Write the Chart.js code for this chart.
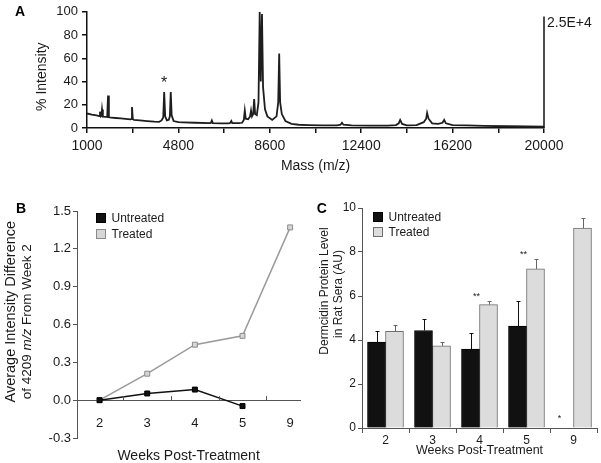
<!DOCTYPE html>
<html>
<head>
<meta charset="utf-8">
<script src="https://cdn.jsdelivr.net/npm/chart.js@4.4.0/dist/chart.umd.min.js"></script>
<style>
  html, body { margin: 0; padding: 0; background: #fff; }
  #lienzo { position: relative; width: 601px; height: 463px; overflow: hidden; }
  canvas { position: absolute; }
</style>
</head>
<body>
<div id="lienzo">
  <canvas id="graficoA" width="601" height="185" style="left:0px;top:0px"></canvas>
  <canvas id="graficoB" width="309" height="273" style="left:0px;top:190px"></canvas>
  <canvas id="graficoC" width="301" height="273" style="left:300px;top:190px"></canvas>
</div>
<script>
// Panel A: espectro de masas (m/z vs % intensidad)
const masas = [1000, 1200, 1400, 1500, 1540, 1575, 1600, 1625, 1660, 1800, 1840, 1875, 1910, 2000, 2200, 2400, 2600, 2800, 2835, 2870, 2905, 2950, 3200, 3500, 3800, 4000, 4100, 4170, 4209, 4250, 4320, 4400, 4445, 4482, 4520, 4600, 4800, 5000, 5500, 6100, 6150, 6190, 6230, 6600, 6900, 6960, 7000, 7040, 7300, 7450, 7520, 7560, 7600, 7700, 7780, 7820, 7860, 7910, 7950, 7990, 8060, 8130, 8180, 8225, 8275, 8320, 8400, 8500, 8700, 8880, 8950, 8990, 9030, 9100, 9250, 9500, 9800, 10200, 10800, 11400, 11540, 11600, 11660, 12000, 12800, 13500, 13850, 13960, 14020, 14100, 14300, 14700, 15000, 15100, 15140, 15200, 15350, 15600, 15780, 15850, 15920, 16200, 16800, 17500, 18500, 19300, 20000];
const intensidades = [12.5, 11.5, 10.8, 10.3, 14, 10, 10.5, 16, 9.8, 9.5, 9.4, 28, 9.2, 9.0, 8.6, 8.2, 7.8, 7.4, 7.6, 18, 7.8, 7.0, 6.6, 6.0, 5.5, 5.3, 6.5, 9, 31, 10, 6.5, 7, 10, 31, 11, 6, 5.0, 4.8, 4.5, 4.2, 4.4, 6.5, 4.2, 4.0, 4.0, 4.5, 6, 4.2, 4.2, 4.5, 7, 15, 8, 7.5, 10, 15, 10, 12, 25, 12, 11, 22, 100, 40, 98, 35, 16, 10, 7, 10, 22, 64, 22, 12, 6, 3.5, 2.8, 2.5, 2.3, 2.3, 2.8, 4.5, 2.8, 2.2, 2.0, 2.0, 2.5, 4, 7, 3.5, 2.2, 2.5, 5, 8, 13, 8, 4, 3.5, 4.5, 7, 4, 2.5, 2.2, 1.8, 1.5, 1.3, 1.2];
const picoMarcado = 4209;

// Panel B: diferencia de intensidad promedio respecto a la semana 2
const semanas = ['2', '3', '4', '5', '9'];
const difNoTratado = [0.0, 0.053, 0.084, -0.047, null];
const difTratado = [0.0, 0.21, 0.44, 0.51, 1.37];

// Panel C: nivel de dermcidina en suero (barras + error)
const nivelNoTratado = [3.90, 4.43, 3.59, 4.63, null];
const errNoTratado = [0.52, 0.54, 0.72, 1.14, null];
const nivelTratado = [4.39, 3.73, 5.61, 7.23, 9.09];
const errTratado = [0.27, 0.20, 0.17, 0.46, 0.47];
const marcasSig = ['', '', '**', '**', '*'];

const FUENTE = '"Liberation Sans", Arial, Helvetica, sans-serif';
const TINTA = '#1a1a1a';
Chart.defaults.font.family = FUENTE;
Chart.defaults.color = TINTA;
Chart.defaults.animation = false;

// Texto vertical con partes en cursiva
function textoRotado(ctx, partes, cx, cy, size) {
    ctx.save();
    ctx.translate(cx, cy);
    ctx.rotate(-Math.PI / 2);
    ctx.fillStyle = TINTA;
    ctx.textBaseline = 'middle';
    ctx.textAlign = 'left';
    let total = 0;
    partes.forEach(p => {
        ctx.font = `${p[1] ? 'italic ' : ''}${size}px ${FUENTE}`;
        total += ctx.measureText(p[0]).width;
    });
    let x = -total / 2;
    partes.forEach(p => {
        ctx.font = `${p[1] ? 'italic ' : ''}${size}px ${FUENTE}`;
        ctx.fillText(p[0], x, 0);
        x += ctx.measureText(p[0]).width;
    });
    ctx.restore();
}

function letraPanel(ctx, letra, x, y) {
    ctx.save();
    ctx.font = `bold 14px ${FUENTE}`;
    ctx.fillStyle = '#000';
    ctx.textAlign = 'center';
    ctx.textBaseline = 'middle';
    ctx.fillText(letra, x, y);
    ctx.restore();
}

function dibujarLeyenda(chart, dx, dy) {
    const { ctx, chartArea } = chart;
    ctx.save();
    ctx.font = `12px ${FUENTE}`;
    ctx.textBaseline = 'middle';
    ctx.textAlign = 'left';
    chart.data.datasets.forEach((ds, i) => {
        const x = Math.round(chartArea.left + dx);
        const y = Math.round(chartArea.top + dy + i * 15.6);
        ctx.fillStyle = ds.pointBackgroundColor || ds.backgroundColor;
        ctx.fillRect(x, y, 10, 10);
        ctx.strokeStyle = ds.pointBorderColor || ds.borderColor;
        ctx.lineWidth = 1;
        ctx.strokeRect(x + 0.5, y + 0.5, 9, 9);
        ctx.fillStyle = TINTA;
        ctx.fillText(ds.label, x + 15.5, y + 5.5);
    });
    ctx.restore();
}

// ---------- Panel A ----------
const extrasA = {
    id: 'extrasA',
    afterDraw(chart) {
        const { ctx } = chart;
        const xs = chart.scales.x, ys = chart.scales.y;
        const xr = xs.getPixelForValue(xs.max);
        ctx.save();
        ctx.strokeStyle = '#111';
        ctx.lineWidth = 1.5;
        ctx.beginPath();
        ctx.moveTo(xr, ys.getPixelForValue(96));
        ctx.lineTo(xr, ys.getPixelForValue(0));
        ctx.stroke();
        ctx.fillStyle = TINTA;
        ctx.font = `14px ${FUENTE}`;
        ctx.textBaseline = 'middle';
        ctx.textAlign = 'left';
        ctx.fillText('2.5E+4', xr + 3, 23);
        const k = masas.indexOf(picoMarcado);
        ctx.font = `16px ${FUENTE}`;
        ctx.textAlign = 'center';
        ctx.fillText('*', xs.getPixelForValue(picoMarcado), ys.getPixelForValue(intensidades[k]) - 8);
        ctx.restore();
        textoRotado(ctx, [['% Intensity', false]], 42, 76.7, 14);
        letraPanel(ctx, 'A', 20, 12.5);
    }
};

new Chart(document.getElementById('graficoA'), {
    type: 'line',
    data: {
        datasets: [{
            label: 'Spectrum',
            data: masas.map((m, i) => ({ x: m, y: intensidades[i] })),
            borderColor: '#1e1e1e',
            borderWidth: 1.8,
            pointRadius: 0,
            tension: 0,
            fill: false
        }]
    },
    options: {
        responsive: false,
        layout: { padding: { left: 0, top: 10, right: 57, bottom: 0 } },
        plugins: { legend: { display: false }, tooltip: { enabled: false } },
        scales: {
            x: {
                type: 'linear', min: 1000, max: 20000,
                ticks: {
                    stepSize: 1900, autoSkip: false, maxRotation: 0, padding: 5,
                    font: { size: 14 },
                    callback: (v, i) => i % 2 === 0 ? String(v) : ''
                },
                grid: { drawOnChartArea: false, drawTicks: true, tickLength: 5, color: '#111', lineWidth: 1.5 },
                border: { color: '#111', width: 1.5 },
                title: { display: true, text: 'Mass (m/z)', font: { size: 14 }, padding: { top: 0, bottom: 10 } },
                afterFit: s => { s.height = 57; }
            },
            y: {
                min: 0, max: 100,
                ticks: { stepSize: 20, padding: 4, font: { size: 13 } },
                grid: { drawOnChartArea: false, drawTicks: true, tickLength: 5, color: '#111', lineWidth: 1.5 },
                border: { color: '#111', width: 1.5 },
                afterFit: s => { s.width = 87; }
            }
        }
    },
    plugins: [extrasA]
});

// ---------- Panel B ----------
const extrasB = {
    id: 'extrasB',
    afterDraw(chart) {
        const { ctx } = chart;
        const xs = chart.scales.x, ys = chart.scales.y;
        const y0 = ys.getPixelForValue(0);
        ctx.save();
        ctx.strokeStyle = '#555';
        ctx.lineWidth = 1;
        for (let i = 0; i < semanas.length - 1; i++) {
            const x = Math.round(xs.getPixelForValue(i + 0.5)) + 0.5;
            ctx.beginPath();
            ctx.moveTo(x, y0);
            ctx.lineTo(x, y0 - 4);
            ctx.stroke();
        }
        ctx.restore();
        textoRotado(ctx, [['Average Intensity Difference', false]], 11, 121.7, 14.5);
        textoRotado(ctx, [['of 4209 ', false], ['m/z', true], [' From Week 2', false]], 27.5, 131.7, 13.5);
        dibujarLeyenda(chart, 18.5, 2);
        letraPanel(ctx, 'B', 21, 19);
    }
};

new Chart(document.getElementById('graficoB'), {
    type: 'line',
    data: {
        datasets: [{
            label: 'Untreated',
            data: difNoTratado.map((v, i) => ({ x: i, y: v })),
            borderColor: '#111',
            borderWidth: 1.5,
            pointStyle: 'rect',
            pointRadius: 3.5,
            pointBackgroundColor: '#111',
            pointBorderColor: '#000',
            pointBorderWidth: 1,
            tension: 0
        }, {
            label: 'Treated',
            data: difTratado.map((v, i) => ({ x: i, y: v })),
            borderColor: '#9a9a9a',
            borderWidth: 1.5,
            pointStyle: 'rect',
            pointRadius: 3.5,
            pointBackgroundColor: '#d6d6d6',
            pointBorderColor: '#8a8a8a',
            pointBorderWidth: 1,
            tension: 0
        }]
    },
    options: {
        responsive: false,
        layout: { padding: { left: 0, top: 21, right: 0, bottom: 25 } },
        plugins: { legend: { display: false }, tooltip: { enabled: false } },
        scales: {
            x: {
                type: 'linear', position: { y: 0 }, min: -0.474, max: 4.21,
                ticks: {
                    stepSize: 1, includeBounds: false, padding: 15, font: { size: 13 },
                    callback: v => Number.isInteger(v) ? semanas[v] : ''
                },
                grid: { display: true, drawOnChartArea: false, drawTicks: false },
                border: { color: '#555', width: 1 },
                title: { display: true, text: 'Weeks Post-Treatment', font: { size: 14 }, padding: { top: 2, bottom: 0 } }
            },
            y: {
                min: -0.3, max: 1.5,
                ticks: { stepSize: 0.3, padding: 2, font: { size: 13 }, callback: v => v.toFixed(1) },
                grid: { drawOnChartArea: false, drawTicks: true, tickLength: 4, color: '#555' },
                border: { color: '#555', width: 1 },
                afterFit: s => { s.width = 77; }
            }
        }
    },
    plugins: [extrasB]
});

// ---------- Panel C ----------
const erroresC = [errNoTratado, errTratado];
const extrasC = {
    id: 'extrasC',
    afterDraw(chart) {
        const { ctx } = chart;
        const ys = chart.scales.y;
        ctx.save();
        chart.data.datasets.forEach((ds, d) => {
            const meta = chart.getDatasetMeta(d);
            ctx.strokeStyle = d === 0 ? '#111' : '#666';
            ctx.lineWidth = 1;
            meta.data.forEach((bar, i) => {
                const v = ds.data[i], e = erroresC[d][i];
                if (v == null || e == null) return;
                const x = Math.round(bar.x) + 0.5;
                const yTop = Math.round(ys.getPixelForValue(v + e)) + 0.5;
                ctx.beginPath();
                ctx.moveTo(x, bar.y);
                ctx.lineTo(x, yTop);
                ctx.moveTo(x - 2, yTop);
                ctx.lineTo(x + 2, yTop);
                ctx.stroke();
            });
        });
        const metaT = chart.getDatasetMeta(1);
        ctx.fillStyle = TINTA;
        ctx.font = `9px ${FUENTE}`;
        ctx.textAlign = 'center';
        ctx.textBaseline = 'middle';
        marcasSig.forEach((m, i) => {
            if (!m) return;
            const bar = metaT.data[i];
            if (nivelNoTratado[i] == null) {
                ctx.fillText(m, bar.x - bar.width - 5, ys.getPixelForValue(0.5) + 2);
            } else {
                const yTop = ys.getPixelForValue(nivelTratado[i] + errTratado[i]);
                ctx.fillText(m, bar.x - bar.width / 2 - 3, yTop - 4);
            }
        });
        ctx.restore();
        textoRotado(ctx, [['Dermcidin Protein Level', false]], 25, 101, 12);
        textoRotado(ctx, [['in Rat Sera (AU)', false]], 39, 104, 12);
        dibujarLeyenda(chart, 11, 3.5);
        letraPanel(ctx, 'C', 21.7, 19.5);
    }
};

new Chart(document.getElementById('graficoC'), {
    type: 'bar',
    data: {
        labels: semanas,
        datasets: [{
            label: 'Untreated',
            data: nivelNoTratado,
            backgroundColor: '#111',
            borderColor: '#000',
            borderWidth: 1,
            barThickness: 18
        }, {
            label: 'Treated',
            data: nivelTratado,
            backgroundColor: '#dcdcdc',
            borderColor: '#6f6f6f',
            borderWidth: 1,
            barThickness: 18
        }]
    },
    options: {
        responsive: false,
        layout: { padding: { left: 0, top: 18, right: 4, bottom: 0 } },
        plugins: { legend: { display: false }, tooltip: { enabled: false } },
        scales: {
            x: {
                offset: true,
                ticks: { padding: 0, font: { size: 12 } },
                grid: { offset: true, drawOnChartArea: false, drawTicks: true, tickLength: 5, color: '#555' },
                border: { color: '#555', width: 1 },
                title: { display: true, text: 'Weeks Post-Treatment', font: { size: 12.5 }, padding: { top: 0, bottom: 5 } },
                afterFit: s => { s.height = 35; }
            },
            y: {
                min: 0, max: 10,
                ticks: { stepSize: 2, padding: 2, font: { size: 12 } },
                grid: { drawOnChartArea: false, drawTicks: true, tickLength: 4, color: '#555' },
                border: { color: '#555', width: 1 },
                afterFit: s => { s.width = 62; }
            }
        }
    },
    plugins: [extrasC]
});
</script>
</body>
</html>
